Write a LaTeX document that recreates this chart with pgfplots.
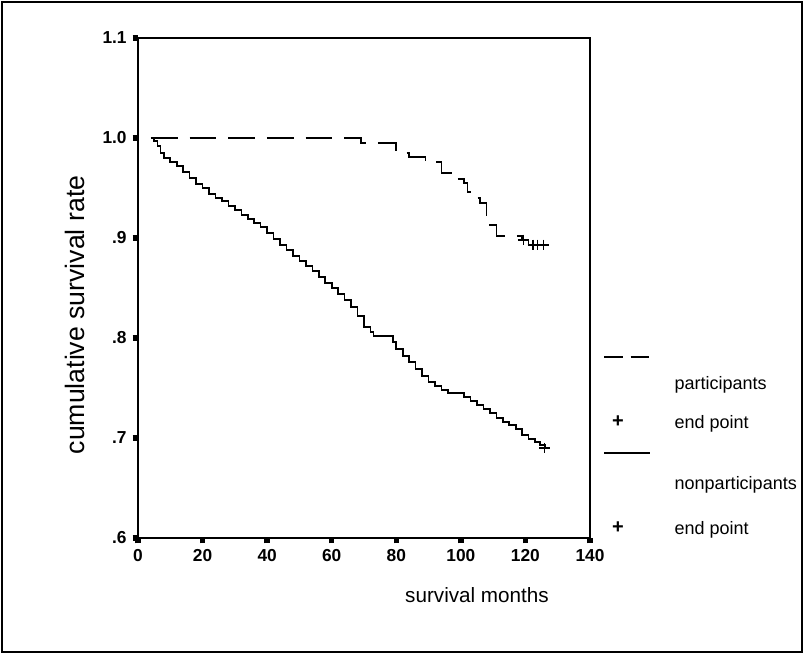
\documentclass[border=0pt]{standalone}
\usepackage{pgfplots}
\pgfplotsset{compat=1.18}
\usepackage{fontspec}
\setmainfont{Liberation Sans}

% Kaplan-Meier steps (month, cumulative survival)
\pgfplotstableread{
m s
4 1.000
69 0.995
80 0.985
84 0.981
89 0.976
94 0.965
97 0.959
101 0.955
102 0.946
103 0.940
106 0.935
108 0.913
111 0.902
119 0.898
121 0.893
127 0.893
}\part

\pgfplotstableread{
m s
4 1.000
5 0.997
6 0.992
7 0.985
8 0.980
10 0.976
12 0.972
14 0.966
16 0.960
18 0.954
20 0.950
22 0.944
24 0.940
26 0.937
28 0.932
30 0.928
32 0.923
34 0.919
36 0.915
38 0.911
40 0.905
42 0.899
44 0.893
46 0.888
48 0.882
50 0.877
52 0.872
54 0.867
56 0.861
58 0.855
60 0.850
62 0.844
64 0.838
66 0.831
68 0.822
70 0.811
72 0.806
73 0.802
79 0.796
80 0.789
82 0.782
84 0.776
86 0.769
88 0.762
90 0.756
92 0.752
94 0.748
96 0.745
101 0.741
103 0.737
105 0.733
107 0.729
109 0.725
111 0.720
113 0.716
115 0.713
117 0.709
119 0.703
121 0.699
123 0.696
124.5 0.693
126 0.690
}\nonpart

\pgfplotstableread{
m s
119.3 0.898
122.3 0.893
123.8 0.893
125.7 0.893
}\partend

\pgfplotstableread{
m s
125.9 0.690
}\nonpartend

\begin{document}
\begin{tikzpicture}
\useasboundingbox (-103.5pt,-87.75pt) rectangle (499.5pt,403.5pt);
\begin{axis}[
  at={(0,0)},anchor=south west,
  scale only axis,width=339pt,height=375pt,
  xmin=0,xmax=140,ymin=0.6,ymax=1.1,
  xtick={0,20,...,140},
  ytick={0.6,0.7,0.8,0.9,1.0,1.1},
  yticklabels={.6,.7,.8,.9,1.0,1.1},
  xtick pos=bottom,ytick pos=left,
  tick align=outside,
  major tick length=4pt,
  tick style={line width=4pt,black},
  axis line style={line width=1.5pt},
  /pgf/number format/assume math mode=true,
  tick label style={font=\fontsize{13}{15}\selectfont\bfseries},
  xticklabel style={yshift=-1pt},
  yticklabel style={xshift=-1pt},
  xlabel={survival months},
  ylabel={cumulative survival rate},
  xlabel style={font=\fontsize{15.5}{17}\selectfont,at={(axis description cs:0.75,-0.114)},anchor=center},
  ylabel style={font=\fontsize{20}{22}\selectfont,at={(axis description cs:-0.139,0.446)},anchor=center},
  clip=false,
]
\addplot[const plot,black,line width=1.2pt,dash pattern=on 20pt off 9pt] table[x=m,y=s] {\part};
\addplot[const plot,black,line width=1.2pt] table[x=m,y=s] {\nonpart};
\addplot[only marks,mark=+,mark size=4pt,line width=1pt,black] table[x=m,y=s] {\partend};
\addplot[only marks,mark=+,mark size=4pt,line width=1pt,black] table[x=m,y=s] {\nonpartend};

% legend, drawn as in the original: sample above, label below
\draw[black,line width=1.2pt,dash pattern=on 14pt off 6pt]
  (axis description cs:1.031,0.362) -- (axis description cs:1.133,0.362);
\node[anchor=west,font=\fontsize{13.5}{16}\selectfont] at (axis description cs:1.177,0.306) {participants};
\node[font=\fontsize{15}{17}\selectfont\bfseries] at (axis description cs:1.062,0.232) {+};
\node[anchor=west,font=\fontsize{13.5}{16}\selectfont] at (axis description cs:1.177,0.228) {end point};
\draw[black,line width=1.2pt]
  (axis description cs:1.031,0.17) -- (axis description cs:1.133,0.17);
\node[anchor=west,font=\fontsize{13.5}{16}\selectfont] at (axis description cs:1.177,0.106) {nonparticipants};
\node[font=\fontsize{15}{17}\selectfont\bfseries] at (axis description cs:1.062,0.02) {+};
\node[anchor=west,font=\fontsize{13.5}{16}\selectfont] at (axis description cs:1.177,0.016) {end point};
\end{axis}
\draw[line width=1.2pt] (-102pt,-85.5pt) rectangle (498pt,402pt);
\end{tikzpicture}
\end{document}
